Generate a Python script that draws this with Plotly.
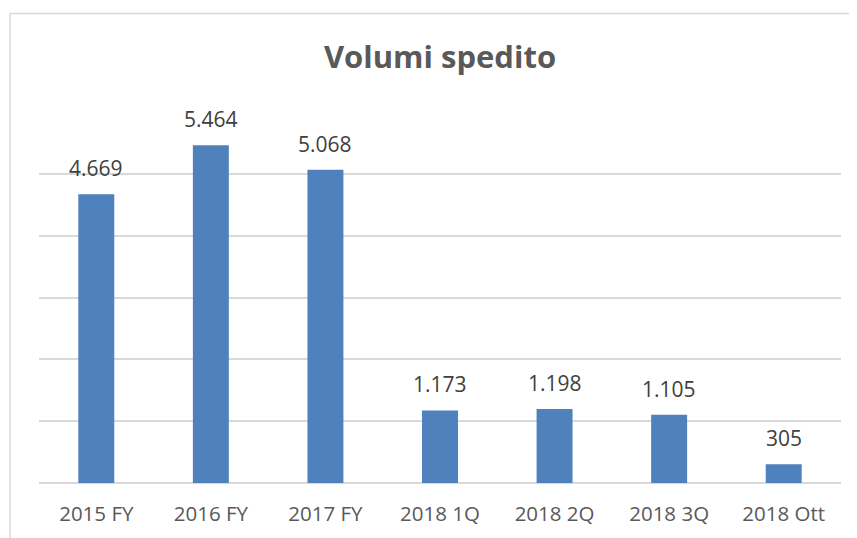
import plotly.graph_objects as go

categories = ["2015 FY", "2016 FY", "2017 FY", "2018 1Q", "2018 2Q", "2018 3Q", "2018 Ott"]
volumes = [4669, 5464, 5068, 1173, 1198, 1105, 305]
title_text = "Volumi spedito"

W, H = 857, 538
OFF = 8  # page body margin in the browser
L, T = 39 - OFF, 111.5 - OFF
R = (W + OFF) - 841
B = (H + OFF) - 482.7
pw = W - L - R
ph = H - T - B

FONT = "Open Sans, sans-serif"

def fmt(v):
    return f"{v:,}".replace(",", ".")

fig = go.Figure()
fig.add_trace(go.Bar(
    x=categories, y=volumes,
    marker=dict(color="#4F81BD", line=dict(width=0)),
    width=0.314,
    hoverinfo="x+y",
))

for c, v in zip(categories, volumes):
    fig.add_annotation(x=c, y=v, text=fmt(v), showarrow=False,
                       yanchor="bottom", yshift=10,
                       font=dict(family=FONT, size=21, color="#404040"))

# chart border (partially cropped, like the reference)
fig.add_shape(type="rect", xref="paper", yref="paper",
              x0=(10 - 39) / pw, x1=(W + 40 - 39) / pw,
              y0=-60 / ph, y1=(482.7 - 13) / ph,
              line=dict(color="#D9D9D9", width=1.5), fillcolor="rgba(0,0,0,0)",
              layer="below")

fig.update_layout(
    width=W, height=H,
    margin=dict(l=L, r=R, t=T, b=B),
    paper_bgcolor="white", plot_bgcolor="white",
    showlegend=False,
    title=dict(text=f"<b>{title_text}</b>", x=0.5, xref="paper",
               y=1 - (57 - OFF) / H, yref="container", yanchor="middle", xanchor="center",
               font=dict(family=FONT, size=31, color="#595959")),
    xaxis=dict(showgrid=False, showline=False, zeroline=False,
               ticks="", ticklabelstandoff=16,
               tickfont=dict(family=FONT, size=20.5, color="#595959")),
    yaxis=dict(range=[0, 6000], dtick=1000, showgrid=True, gridcolor="#D9D9D9",
               gridwidth=1.5, zeroline=True, zerolinecolor="#D9D9D9", zerolinewidth=1.5,
               showticklabels=False, showline=False, ticks=""),
)

fig.write_html("out.html")
